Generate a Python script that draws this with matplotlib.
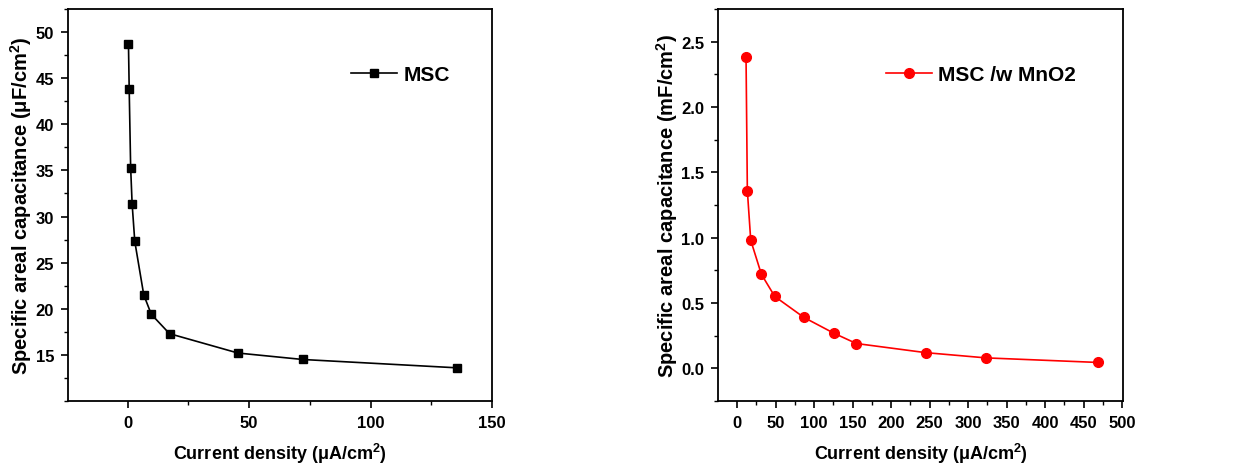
import matplotlib
matplotlib.use('Agg')
import matplotlib.pyplot as plt
from matplotlib.ticker import MultipleLocator, FormatStrFormatter

# Daten
msc_x = [0.3, 0.6, 1.2, 1.8, 2.9, 6.6, 9.7, 17.2, 45.4, 72.1, 135.4]
msc_y = [48.7, 43.8, 35.3, 31.4, 27.3, 21.5, 19.4, 17.3, 15.2, 14.5, 13.6]

mno2_x = [11.7, 13.4, 17.8, 31.6, 49.0, 86.7, 125.3, 154.8, 245.0, 323.0, 468.6]
mno2_y = [2.38, 1.36, 0.98, 0.72, 0.55, 0.39, 0.27, 0.19, 0.12, 0.08, 0.045]

xlabel = r'Current density ($\mu$A/cm$^2$)'
ylabel_left = r'Specific areal capacitance ($\mu$F/cm$^2$)'
ylabel_right = r'Specific areal capacitance (mF/cm$^2$)'

plt.rcParams['font.family'] = ['Liberation Sans', 'DejaVu Sans']
plt.rcParams['font.weight'] = 'bold'
plt.rcParams['mathtext.fontset'] = 'custom'
plt.rcParams['mathtext.rm'] = 'Liberation Sans:bold'
plt.rcParams['mathtext.it'] = 'Liberation Sans:bold'
plt.rcParams['mathtext.bf'] = 'Liberation Sans:bold'
plt.rcParams['mathtext.default'] = 'rm'

fig = plt.figure(figsize=(12.49, 4.64), dpi=100)
W, H = 1249, 464
ax1 = fig.add_axes([68 / W, 1 - 402 / H, (492 - 68) / W, (402 - 10) / H])
ax2 = fig.add_axes([718 / W, 1 - 402 / H, (1123 - 718) / W, (402 - 10) / H])

ax1.plot(msc_x, msc_y, color='black', lw=1.2, marker='s', ms=6, label='MSC')
ax2.plot(mno2_x, mno2_y, color='red', lw=1.2, marker='o', ms=7, label='MSC /w MnO2')

ax1.set_xlim(-24.6, 150)
ax1.set_ylim(10, 52.5)
ax1.xaxis.set_major_locator(MultipleLocator(50))
ax1.xaxis.set_minor_locator(MultipleLocator(25))
ax1.yaxis.set_minor_locator(MultipleLocator(2.5))
ax1.set_yticks([15, 20, 25, 30, 35, 40, 45, 50])

ax2.set_xlim(-24.7, 501)
ax2.set_ylim(-0.25, 2.75)
ax2.xaxis.set_major_locator(MultipleLocator(50))
ax2.xaxis.set_minor_locator(MultipleLocator(25))
ax2.yaxis.set_minor_locator(MultipleLocator(0.25))
ax2.set_yticks([0, 0.5, 1.0, 1.5, 2.0, 2.5])

for ax, yl, lx in [(ax1, ylabel_left, 0.945), (ax2, ylabel_right, 0.93)]:
    ax.tick_params(which='major', direction='out', length=5, width=1.2, labelsize=12, pad=5)
    ax.tick_params(which='minor', direction='out', length=3, width=1.0)
    for s in ax.spines.values():
        s.set_linewidth(1.3)
    ax.set_xlabel(xlabel, fontsize=13, fontweight='bold', labelpad=8)
    ax.set_ylabel(yl, fontsize=14.5, fontweight='bold', labelpad=1)
    ax.legend(loc='upper right', bbox_to_anchor=(lx, 0.905), frameon=False,
              fontsize=15, handlelength=2.2, handletextpad=0.3)

ax1.xaxis.set_major_formatter(FormatStrFormatter('%d'))
ax2.xaxis.set_major_formatter(FormatStrFormatter('%d'))
ax1.yaxis.set_major_formatter(FormatStrFormatter('%d'))
ax2.yaxis.set_major_formatter(FormatStrFormatter('%.1f'))

fig.savefig('out.png', dpi=100)
